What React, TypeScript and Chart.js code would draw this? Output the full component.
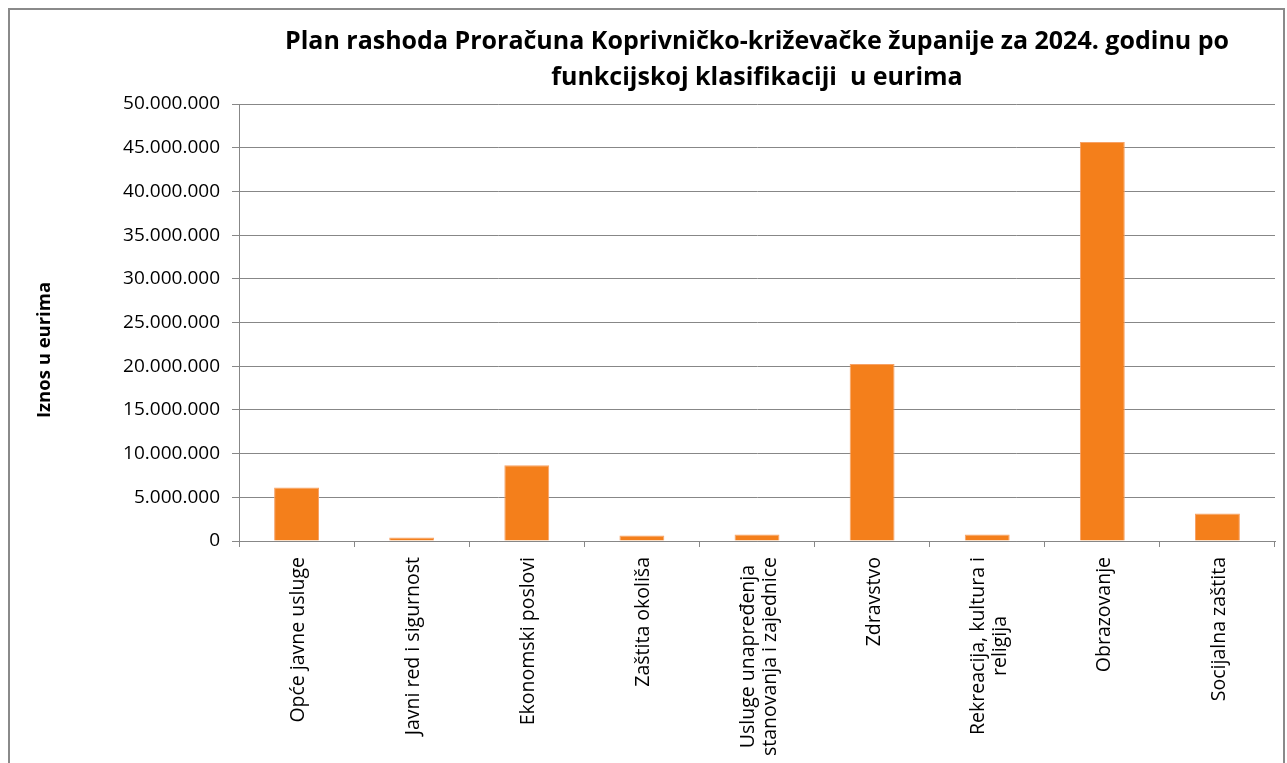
import React, { useEffect, useRef } from "react";
import { Chart, registerables } from "chart.js";

Chart.register(...registerables);

const titleLines = [
  "Plan rashoda Proračuna Koprivničko-križevačke županije za 2024. godinu po",
  "funkcijskoj klasifikaciji  u eurima",
];
const yAxisTitle = "Iznos u eurima";
const categories: (string | string[])[] = [
  "Opće javne usluge",
  "Javni red i sigurnost",
  "Ekonomski poslovi",
  "Zaštita okoliša",
  ["Usluge unapređenja", "stanovanja i zajednice"],
  "Zdravstvo",
  ["Rekreacija, kultura i", "religija"],
  "Obrazovanje",
  "Socijalna zaštita",
];
const values = [6120000, 390000, 8670000, 620000, 730000, 20250000, 730000, 45650000, 3140000];
const yTicks = [0, 5000000, 10000000, 15000000, 20000000, 25000000, 30000000, 35000000, 40000000, 45000000, 50000000];

const fmt = (v: number) => String(Math.round(v)).replace(/\B(?=(\d{3})+(?!\d))/g, ".");

const FONT = '"Open Sans", "Noto Sans", sans-serif';
const GRID = "#878787";

const xLabelPlugin = {
  id: "xLabels",
  afterDraw(chart: any) {
    const ctx = chart.ctx;
    const xs = chart.scales.x;
    ctx.save();
    ctx.font = `19.5px ${FONT}`;
    ctx.fillStyle = "#000";
    ctx.textAlign = "center";
    ctx.textBaseline = "middle";
    categories.forEach((lab, i) => {
      const lines = Array.isArray(lab) ? lab : [lab];
      const W = Math.max(...lines.map((l) => ctx.measureText(l).width));
      const cx = xs.getPixelForTick(i) + 2;
      const top = chart.chartArea.bottom + 16;
      lines.forEach((line, j) => {
        ctx.save();
        ctx.translate(cx + (j - (lines.length - 1) / 2) * 22, top);
        ctx.rotate(-Math.PI / 2);
        ctx.fillText(line, -W / 2, 0);
        ctx.restore();
      });
    });
    // y axis title
    ctx.font = `bold 18.5px ${FONT}`;
    ctx.save();
    ctx.translate(45, 350);
    ctx.rotate(-Math.PI / 2);
    ctx.fillText(yAxisTitle, 0, 0);
    ctx.restore();
    ctx.restore();
  },
};

export default function App() {
  const ref = useRef<HTMLCanvasElement>(null);
  useEffect(() => {
    if (!ref.current) return;
    const chart = new Chart(ref.current, {
      type: "bar",
      data: {
        labels: categories.map((c) => (Array.isArray(c) ? c.join(" ") : c)),
        datasets: [
          {
            data: values,
            backgroundColor: "#F47F1B",
            borderColor: "#F7A266",
            borderWidth: 1,
            barPercentage: 0.39,
            categoryPercentage: 1,
          },
        ],
      },
      options: {
        responsive: false,
        animation: false,
        devicePixelRatio: 1,
        layout: { padding: { left: 0, right: 12, top: 0, bottom: 0 } },
        plugins: {
          legend: { display: false },
          tooltip: { enabled: false },
          title: {
            display: true,
            text: titleLines,
            fullSize: false,
            color: "#000",
            font: { family: FONT, size: 25, weight: "bold", lineHeight: "36px" },
            padding: { top: 24, bottom: 8 },
          },
        },
        scales: {
          x: {
            grid: { drawOnChartArea: false, drawTicks: true, tickLength: 6, color: GRID, offset: true },
            border: { color: GRID },
            ticks: { display: false },
            afterFit: (s: any) => {
              s.height = 222;
            },
          },
          y: {
            min: 0,
            max: 50000000,
            afterBuildTicks: (s: any) => {
              s.ticks = yTicks.map((v) => ({ value: v }));
            },
            ticks: {
              callback: (v: any) => fmt(Number(v)),
              font: { family: FONT, size: 19 },
              color: "#000",
              padding: 12,
            },
            grid: { color: GRID, tickLength: 7 },
            border: { color: GRID },
            afterFit: (s: any) => {
              s.width = 239;
            },
          },
        },
      } as any,
      plugins: [xLabelPlugin],
    });
    return () => chart.destroy();
  }, []);

  return (
    <>
      <div
        style={{
          position: "fixed",
          left: 8,
          top: 8,
          width: 1277,
          height: 800,
          border: "2px solid #8a8a8a",
          boxSizing: "border-box",
          background: "#fff",
        }}
      />
      <canvas
        ref={ref}
        width={1287}
        height={763}
        style={{ position: "fixed", left: 0, top: 0, width: 1287, height: 763, display: "block" }}
      />
    </>
  );
}
